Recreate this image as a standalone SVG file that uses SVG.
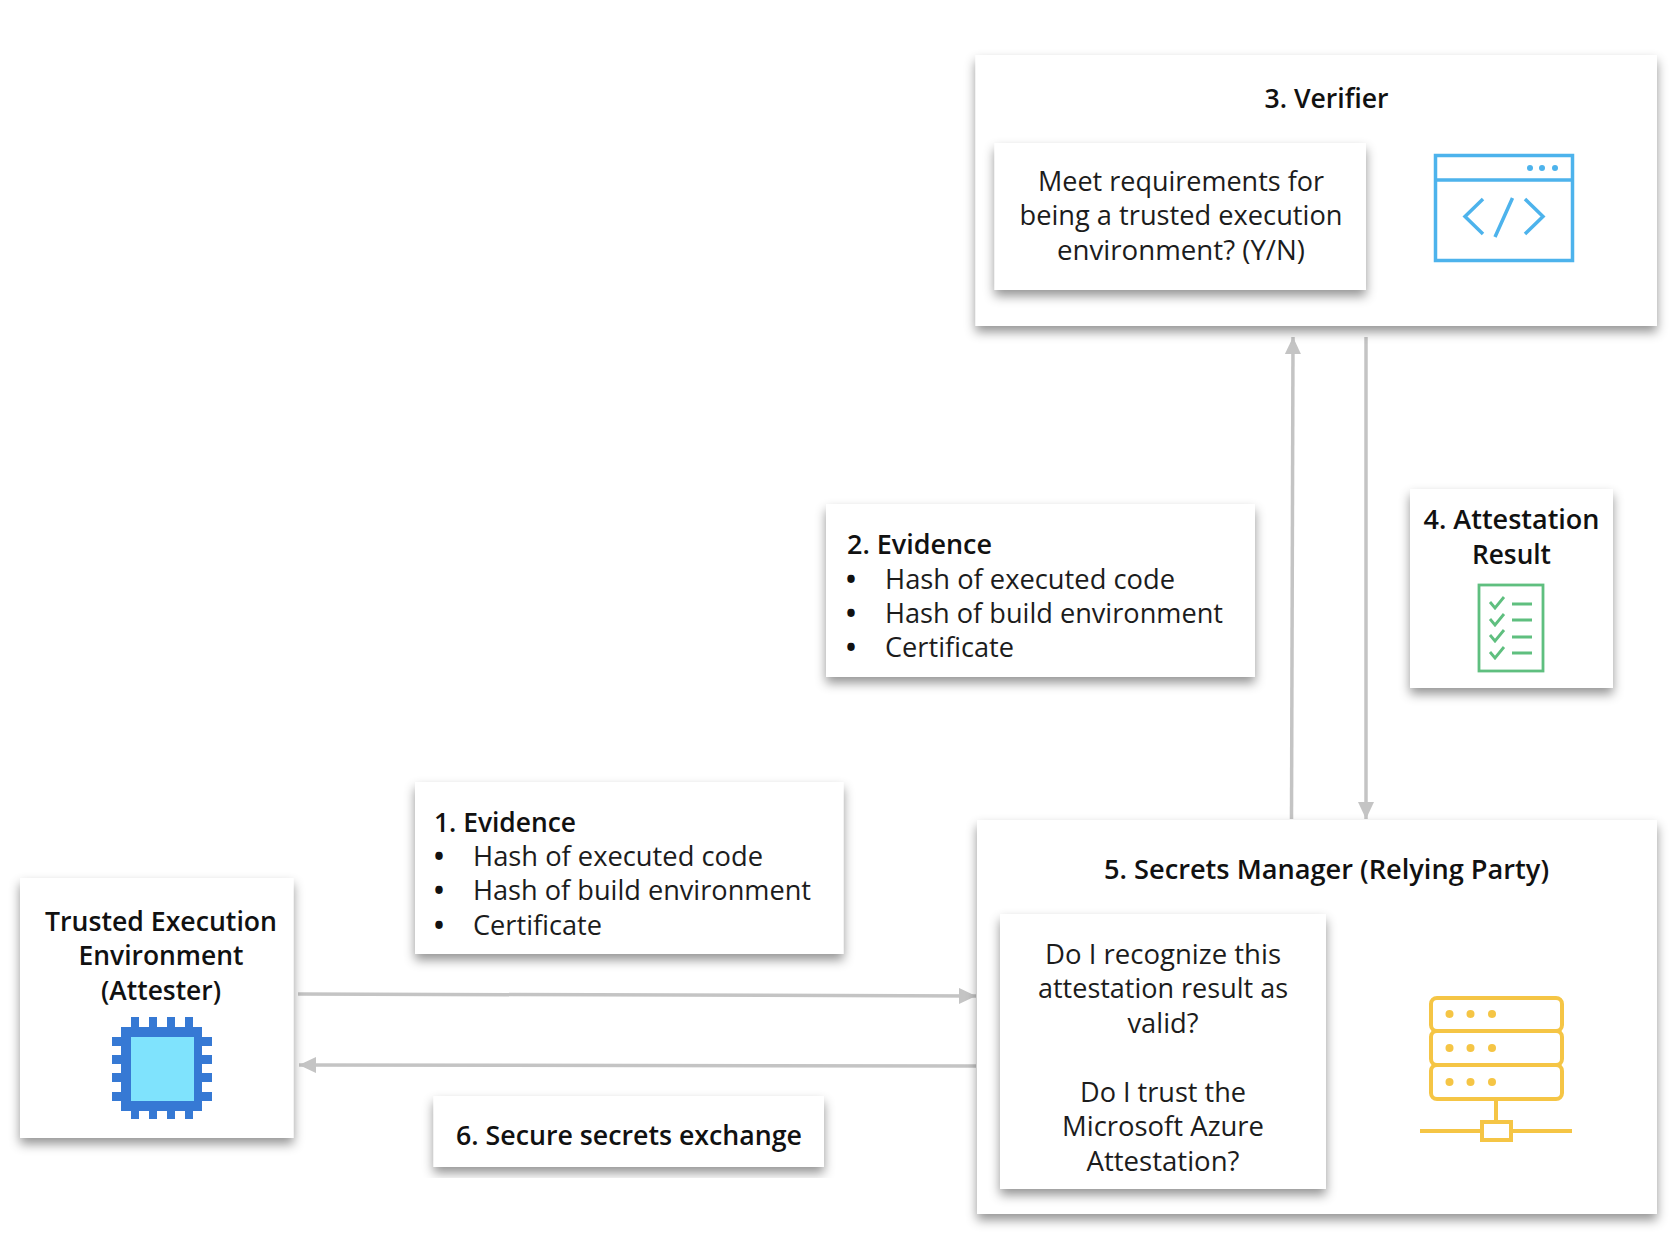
<svg xmlns="http://www.w3.org/2000/svg" width="1676" height="1234" viewBox="0 0 1676 1234">
<style>
text{font-family:"Open Sans","Noto Sans","Liberation Sans",sans-serif;font-size:26.5px;fill:#1c1c1c}
.b{font-weight:600;fill:#111}
.m{text-anchor:middle}
.d{font-weight:700;fill:#111}
.card{fill:#fff;filter:url(#sh)}
.conn{fill:none;stroke:#c4c4c4;stroke-width:3.5}
.blue{fill:none;stroke:#4db3ec;stroke-width:3.5}
.green{fill:none;stroke:#5fbf7f;stroke-width:2.800}
.gold{fill:none;stroke:#f5c545;stroke-width:4}
</style>
<defs>
<filter id="sh" x="-10%" y="-10%" width="120%" height="125%"><feDropShadow dx="0" dy="6" stdDeviation="5.500" flood-color="#000" flood-opacity="0.42"/></filter>
<marker id="ah" markerUnits="userSpaceOnUse" markerWidth="18" markerHeight="16" refX="17" refY="8" orient="auto"><path d="M0 0L17 8L0 16z" fill="#c4c4c4"/></marker>
</defs>
<rect width="1676" height="1234" fill="#fff"/>
<g id="connectors">
<path class="conn" marker-end="url(#ah)" d="M298 994L976 996"/>
<path class="conn" marker-end="url(#ah)" d="M976 1066L299 1065"/>
<path class="conn" marker-end="url(#ah)" d="M1291.500 819L1293 337"/>
<path class="conn" marker-end="url(#ah)" d="M1366 337L1366 819"/>
</g>
<g id="verifier">
<rect class="card" x="975.500" y="55" width="681.500" height="271"/>
<text class="b m" x="1326.500" y="108" textLength="124" lengthAdjust="spacingAndGlyphs">3. Verifier</text>
</g>
<g id="verifier-question">
<rect class="card" x="994.500" y="143" width="371.500" height="147"/>
<text class="m" x="1181" y="191" textLength="286" lengthAdjust="spacingAndGlyphs">Meet requirements for</text>
<text class="m" x="1181" y="225" textLength="323" lengthAdjust="spacingAndGlyphs">being a trusted execution</text>
<text class="m" x="1181" y="260" textLength="248" lengthAdjust="spacingAndGlyphs">environment? (Y/N)</text>
</g>
<g id="verifier-icon">
<rect class="blue" x="1435.500" y="155.500" width="137" height="105"/>
<path class="blue" d="M1435.500 180H1572.500M1483 199L1465 216.500L1483 234M1512.500 198L1495 237M1525 199L1543 216.500L1525 234"/>
<g fill="#4db3ec"><circle cx="1530" cy="168" r="3"/><circle cx="1542" cy="168" r="3"/><circle cx="1555" cy="168" r="3"/></g>
</g>
<g id="evidence-2">
<rect class="card" x="826" y="504" width="429" height="173"/>
<text class="b" x="847" y="554" textLength="145" lengthAdjust="spacingAndGlyphs">2. Evidence</text>
<text class="d" x="846" y="589">•</text><text x="885" y="589" textLength="290" lengthAdjust="spacingAndGlyphs">Hash of executed code</text>
<text class="d" x="846" y="623">•</text><text x="885" y="623" textLength="338" lengthAdjust="spacingAndGlyphs">Hash of build environment</text>
<text class="d" x="846" y="657">•</text><text x="885" y="657" textLength="129" lengthAdjust="spacingAndGlyphs">Certificate</text>
</g>
<g id="attestation-result">
<rect class="card" x="1410" y="489" width="203" height="199"/>
<text class="b m" x="1511.500" y="529" textLength="176" lengthAdjust="spacingAndGlyphs">4. Attestation</text>
<text class="b m" x="1511.500" y="564" textLength="79" lengthAdjust="spacingAndGlyphs">Result</text>
<rect class="green" x="1479" y="585" width="64" height="86"/>
<path class="green" d="M1490 602L1495 608L1504 597M1490 619L1495 625L1504 614M1490 635L1495 641L1504 630M1490 652L1495 658L1504 647M1512 604H1532M1512 620H1532M1512 637H1532M1512 653H1532"/>
</g>
<g id="evidence-1">
<rect class="card" x="415" y="782" width="428.500" height="172"/>
<text class="b" x="434" y="832" textLength="142" lengthAdjust="spacingAndGlyphs">1. Evidence</text>
<text class="d" x="434" y="866">•</text><text x="473" y="866" textLength="290" lengthAdjust="spacingAndGlyphs">Hash of executed code</text>
<text class="d" x="434" y="900">•</text><text x="473" y="900" textLength="338" lengthAdjust="spacingAndGlyphs">Hash of build environment</text>
<text class="d" x="434" y="935">•</text><text x="473" y="935" textLength="129" lengthAdjust="spacingAndGlyphs">Certificate</text>
</g>
<g id="attester">
<rect class="card" x="20" y="878" width="273.500" height="260"/>
<text class="b m" x="161" y="931" textLength="232" lengthAdjust="spacingAndGlyphs">Trusted Execution</text>
<text class="b m" x="161" y="965" textLength="165" lengthAdjust="spacingAndGlyphs">Environment</text>
<text class="b m" x="161" y="1000" textLength="120" lengthAdjust="spacingAndGlyphs">(Attester)</text>
<g fill="#3679d4">
<rect x="131" y="1017" width="8" height="102"/><rect x="149" y="1017" width="8" height="102"/><rect x="167" y="1017" width="8" height="102"/><rect x="185" y="1017" width="8" height="102"/>
<rect x="112" y="1037" width="100" height="9"/><rect x="112" y="1055" width="100" height="9"/><rect x="112" y="1073" width="100" height="9"/><rect x="112" y="1092" width="100" height="9"/>
<rect x="121" y="1027" width="81" height="84"/>
</g>
<rect x="131" y="1037" width="63" height="64" fill="#7fe3fd"/>
</g>
<g id="secure-exchange">
<rect class="card" x="433.500" y="1096" width="390.500" height="71"/>
<text class="b" x="456" y="1145" textLength="346" lengthAdjust="spacingAndGlyphs">6. Secure secrets exchange</text>
</g>
<g id="relying-party">
<rect class="card" x="977" y="820" width="680" height="394"/>
<text class="b m" x="1326.500" y="879" textLength="445" lengthAdjust="spacingAndGlyphs">5. Secrets Manager (Relying Party)</text>
</g>
<g id="relying-question">
<rect class="card" x="1000" y="914" width="326" height="275"/>
<text class="m" x="1163" y="963.500" textLength="236" lengthAdjust="spacingAndGlyphs">Do I recognize this</text>
<text class="m" x="1163" y="998" textLength="250" lengthAdjust="spacingAndGlyphs">attestation result as</text>
<text class="m" x="1163" y="1032.500" textLength="71" lengthAdjust="spacingAndGlyphs">valid?</text>
<text class="m" x="1163" y="1101.500" textLength="166" lengthAdjust="spacingAndGlyphs">Do I trust the</text>
<text class="m" x="1163" y="1136" textLength="202" lengthAdjust="spacingAndGlyphs">Microsoft Azure</text>
<text class="m" x="1163" y="1170.500" textLength="153" lengthAdjust="spacingAndGlyphs">Attestation?</text>
</g>
<g id="server-icon">
<rect class="gold" x="1431" y="998" width="131" height="33" rx="6"/>
<rect class="gold" x="1431" y="1031" width="131" height="34" rx="6"/>
<rect class="gold" x="1431" y="1065" width="131" height="34" rx="6"/>
<path class="gold" d="M1496 1099V1121M1420 1131H1482M1511 1131H1572"/>
<rect class="gold" x="1482" y="1122" width="29" height="18"/>
<g fill="#f5c545"><circle cx="1449.500" cy="1014" r="4"/><circle cx="1470.500" cy="1014" r="4"/><circle cx="1492" cy="1014" r="4"/><circle cx="1449.500" cy="1048" r="4"/><circle cx="1470.500" cy="1048" r="4"/><circle cx="1492" cy="1048" r="4"/><circle cx="1449.500" cy="1082" r="4"/><circle cx="1470.500" cy="1082" r="4"/><circle cx="1492" cy="1082" r="4"/></g>
</g>
</svg>
